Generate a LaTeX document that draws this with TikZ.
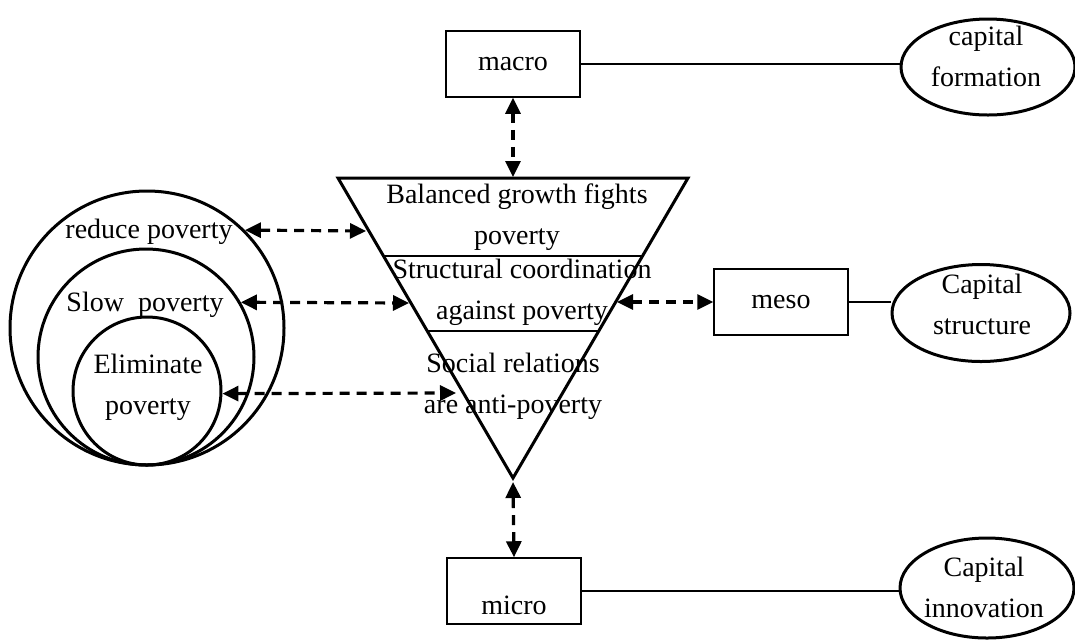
\documentclass[tikz,border=0pt]{standalone}
\usepackage{fontspec}
\setmainfont{Liberation Serif}
\usetikzlibrary{arrows.meta, shapes.geometric, positioning}

\begin{document}
\begin{tikzpicture}[x=0.5pt, y=-0.5pt,
    every node/.style={font=\fontsize{14}{20.5}\selectfont, align=center},
    levelbox/.style={draw, line width=0.75pt, minimum width=67pt, minimum height=33pt, inner sep=0pt},
    capshape/.style={draw, ellipse, line width=1.5pt, inner sep=0pt},
    ring/.style={draw, circle, line width=1.5pt, inner sep=0pt},
    link/.style={line width=1.2pt},
    dashlink/.style={line width=1.6pt, dash pattern=on 5pt off 3.5pt,
        {Triangle[length=8pt,width=7.5pt]}-{Triangle[length=8pt,width=7.5pt]}}]
    \useasboundingbox (0,0) rectangle (1075,639);

    % Inverted triangle
    \draw[line width=1.5pt] (338,178) -- (688,178) -- (513,478) -- cycle;
    \draw[line width=1.2pt] (384,256) -- (642,256);
    \draw[line width=1.2pt] (428,331) -- (598,331);
    \node (growth) at (517,217) {Balanced growth fights\\poverty};
    \node (coord) at (522,292) {Structural coordination\\against poverty};
    \node (social) at (513,386) {Social relations\\are anti-poverty};
    \coordinate (tritop) at (513,177);
    \coordinate (triapex) at (513,482);
    \coordinate (edgeA) at (366,231);
    \coordinate (edgeB) at (409,303);
    \coordinate (edgeC) at (456,393);
    \coordinate (edgeD) at (617,302);

    % Nested circles
    \node[ring, minimum size=137pt] (outer) at (147,328) {};
    \node[ring, minimum size=108pt] (middle) at (146,357) {};
    \node[ring, minimum size=74pt] (inner) at (147,391) {};
    \node (reduce) at (149,232) {reduce poverty};
    \node (slow) at (145,305) {Slow\ \ poverty};
    \node (elim) at (148,387) {Eliminate\\poverty};

    % Levels
    \node[levelbox] (macro) at (513,64) {macro};
    \node[levelbox] (meso) at (781,302) {meso};
    \node[levelbox] (micro) at (514,591) {};
    \node (microtext) at (514,605) {micro};

    % Capital ellipses
    \node[capshape, minimum width=87pt, minimum height=48pt] (capform) at (988,67) {};
    \node (capformtext) at (986,56) {capital\\formation};
    \node[capshape, minimum width=89pt, minimum height=48.5pt] (capstruct) at (981,313) {};
    \node (capstructtext) at (982,304) {Capital\\structure};
    \node[capshape, minimum width=87pt, minimum height=50pt] (capinno) at (987,588) {};
    \node (capinnotext) at (984,587) {Capital\\innovation};

    % Connectors
    \draw[dashlink] (outer.45) -- (edgeA);
    \draw[dashlink] (middle.30) -- (edgeB);
    \draw[dashlink] (inner.-2) -- (edgeC);
    \draw[dashlink] (edgeD) -- (meso.west);
    \draw[dashlink] (macro.south) -- (tritop);
    \draw[dashlink] (micro.north) -- (triapex);
    \draw[link] (macro.east) -- (macro.east -| capform.west);
    \draw[link] (meso.east) -- (meso.east -| capstruct.west);
    \draw[link] (micro.east) -- (micro.east -| capinno.west);
\end{tikzpicture}
\end{document}
